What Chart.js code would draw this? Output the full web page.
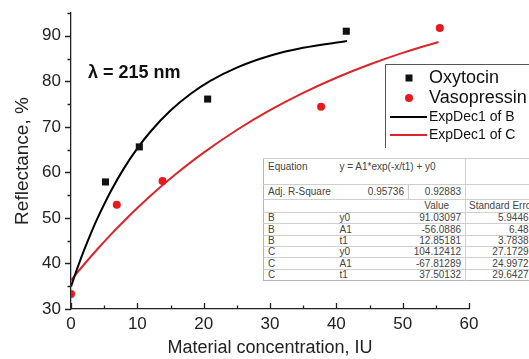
<!DOCTYPE html>
<html>
<head>
<meta charset="utf-8">
<script src="https://cdn.jsdelivr.net/npm/chart.js@4/dist/chart.umd.min.js"></script>
<style>
  html, body { margin:0; padding:0; background:#fff; }
  #wrap { position:relative; width:529px; height:359px; overflow:hidden; background:#fff; }
  #c { position:absolute; left:0; top:0; }
  #fit { position:absolute; left:263px; top:158px; width:272px; border-collapse:collapse; table-layout:fixed;
         font:10px "Liberation Sans", Arial, sans-serif; color:#444; background:#fff;
         border-left:1px solid #b5b5b5; border-bottom:1px solid #b5b5b5; border-top:1px solid #b5b5b5; }
  #fit td { border-top:1px solid #cfcfcf; padding:0 4px; white-space:nowrap; overflow:hidden; line-height:10px; }
  #fit td.r { text-align:right; }
  #fit td.ce { text-align:center; }
  #fit td.vl { border-left:1px solid #cfcfcf; }
  #fit td.top { vertical-align:top; padding-top:3px; }
</style>
</head>
<body>
<div id="wrap">
  <canvas id="c" width="529" height="359"></canvas>
  <table id="fit"></table>
</div>
<script>
// ---- data ----
const oxyConc  = [5.2, 10.3, 20.6, 41.5];
const oxyRefl  = [57.9, 65.6, 76.1, 91.0];
const vasoConc = [0, 6.9, 13.8, 37.7, 55.6];
const vasoRefl = [33.3, 52.9, 58.1, 74.4, 91.7];

// fitted curves (ExpDec1)
const fitBConc = [0, 1, 2, 3, 4, 6, 8, 10, 12, 15, 18, 21, 25, 30, 35, 41.6];
const fitBRefl = [34.94, 39.14, 43.02, 46.62, 49.94, 55.86, 60.93, 65.27, 68.98, 73.57, 77.21, 80.09, 83.01, 85.60, 87.35, 88.83];
const fitCConc = [0, 1, 2, 4, 6, 8, 10, 13, 16, 20, 25, 30, 35, 40, 45, 50, 55.4];
const fitCRefl = [36.31, 38.09, 39.83, 43.17, 46.34, 49.34, 52.18, 56.18, 59.86, 64.34, 69.31, 73.65, 77.46, 80.78, 83.69, 86.24, 88.64];

// axis ticks
const xTicks = [0, 10, 20, 30, 40, 50, 60];
const xMinor = [5, 15, 25, 35, 45, 55];
const yTicks = [30, 40, 50, 60, 70, 80, 90];
const yMinor = [35, 45, 55, 65, 75, 85, 95];

// legend / annotation text
const seriesNames = ['Oxytocin', 'Vasopressin', 'ExpDec1 of B', 'ExpDec1 of C'];
const annotation = 'λ = 215 nm';

// fit result table
const tableEquation = 'y = A1*exp(-x/t1) + y0';
const adjR2 = ['0.95736', '0.92883'];
const tableHeader = ['Value', 'Standard Error'];
const tableSeries = ['B', 'B', 'B', 'C', 'C', 'C'];
const tableParams = ['y0', 'A1', 't1', 'y0', 'A1', 't1'];
const tableValues = ['91.03097', '-56.0886', '12.85181', '104.12412', '-67.81289', '37.50132'];
const tableErrors = ['5.9446', '6.48', '3.7838', '27.1729', '24.9972', '29.6427'];

// ---- build table ----
(function(){
  const t = document.getElementById('fit');
  let h = '<colgroup><col style="width:72px"><col style="width:73px"><col style="width:57px"><col style="width:70px"></colgroup>';
  h += '<tr style="height:26px"><td class="top">Equation</td><td class="top" colspan="2">' + tableEquation + '</td><td class="vl"></td></tr>';
  h += '<tr style="height:15px"><td>Adj. R-Square</td><td class="r">' + adjR2[0] + '</td><td class="r vl">' + adjR2[1] + '</td><td class="vl"></td></tr>';
  h += '<tr style="height:13px"><td></td><td></td><td class="ce">' + tableHeader[0] + '</td><td class="vl" style="padding-left:3px">' + tableHeader[1] + '</td></tr>';
  const hs = [11, 12, 11, 11, 12, 11];
  for (let i = 0; i < tableSeries.length; i++) {
    h += '<tr style="height:' + hs[i] + 'px"><td>' + tableSeries[i] + '</td><td>' + tableParams[i] +
         '</td><td class="r">' + tableValues[i] + '</td><td class="r vl" style="padding-right:7px">' + tableErrors[i] + '</td></tr>';
  }
  t.innerHTML = h;
})();

const FONT = '"Liberation Sans", Arial, sans-serif';

const decor = {
  id: 'decor',
  afterDraw(chart) {
    const ctx = chart.ctx;
    const xs = chart.scales.x, ys = chart.scales.y;
    const ca = chart.chartArea;
    ctx.save();
    ctx.strokeStyle = '#222';
    ctx.lineWidth = 1.3;
    ctx.beginPath();
    for (const v of yTicks) { const p = Math.round(ys.getPixelForValue(v)) + 0.5; ctx.moveTo(ca.left - 6, p); ctx.lineTo(ca.left, p); }
    for (const v of yMinor) { const p = Math.round(ys.getPixelForValue(v)) + 0.5; ctx.moveTo(ca.left - 3.5, p); ctx.lineTo(ca.left, p); }
    for (const v of xTicks) { const p = Math.round(xs.getPixelForValue(v)) + 0.5; ctx.moveTo(p, ca.bottom); ctx.lineTo(p, ca.bottom - 6); }
    for (const v of xMinor) { const p = Math.round(xs.getPixelForValue(v)) + 0.5; ctx.moveTo(p, ca.bottom); ctx.lineTo(p, ca.bottom - 3.5); }
    ctx.stroke();

    // annotation
    ctx.fillStyle = '#111';
    ctx.font = 'bold 18px ' + FONT;
    ctx.textBaseline = 'middle';
    ctx.textAlign = 'left';
    ctx.fillText(annotation, 88, 73);

    // legend box
    ctx.fillStyle = '#fff';
    ctx.fillRect(386, 65, 143, 83);
    ctx.strokeStyle = '#555';
    ctx.lineWidth = 1;
    ctx.beginPath();
    ctx.moveTo(385.5, 148); ctx.lineTo(385.5, 64.5); ctx.lineTo(529, 64.5);
    ctx.stroke();

    const ds = chart.data.datasets;
    ctx.fillStyle = ds[0].backgroundColor;
    ctx.fillRect(405.5, 74.5, 7, 7);
    ctx.fillStyle = ds[1].backgroundColor;
    ctx.beginPath(); ctx.arc(409, 98, 4, 0, Math.PI * 2); ctx.fill();
    ctx.lineWidth = 2;
    ctx.strokeStyle = ds[2].borderColor;
    ctx.beginPath(); ctx.moveTo(390, 117); ctx.lineTo(427, 117); ctx.stroke();
    ctx.strokeStyle = ds[3].borderColor;
    ctx.beginPath(); ctx.moveTo(390, 135); ctx.lineTo(427, 135); ctx.stroke();

    ctx.fillStyle = '#111';
    ctx.font = '18px ' + FONT;
    ctx.fillText(seriesNames[0], 429, 78);
    ctx.fillText(seriesNames[1], 429, 98);
    ctx.font = '14px ' + FONT;
    ctx.fillText(seriesNames[2], 429, 117);
    ctx.fillText(seriesNames[3], 429, 135);
    ctx.restore();
  }
};

const zip = (a, b) => a.map((v, i) => ({ x: v, y: b[i] }));

new Chart(document.getElementById('c'), {
  type: 'scatter',
  data: {
    datasets: [
      { label: seriesNames[0], data: zip(oxyConc, oxyRefl), pointStyle: 'rect', pointRadius: 5,
        backgroundColor: '#111', borderColor: '#111', borderWidth: 0, order: 0 },
      { label: seriesNames[1], data: zip(vasoConc, vasoRefl), pointStyle: 'circle', pointRadius: 4,
        backgroundColor: '#e8191c', borderColor: '#e8191c', borderWidth: 0, order: 0,
        clip: { left: 0, top: false, right: false, bottom: false } },
      { label: seriesNames[2], data: zip(fitBConc, fitBRefl), showLine: true, pointRadius: 0,
        borderColor: '#000', borderWidth: 2, cubicInterpolationMode: 'monotone', order: 1 },
      { label: seriesNames[3], data: zip(fitCConc, fitCRefl), showLine: true, pointRadius: 0,
        borderColor: '#d8262a', borderWidth: 2, cubicInterpolationMode: 'monotone', order: 1 }
    ]
  },
  options: {
    responsive: false,
    animation: false,
    devicePixelRatio: 1,
    layout: { padding: { top: 13, right: 60, bottom: 0, left: 0 } },
    plugins: { legend: { display: false }, tooltip: { enabled: false } },
    scales: {
      x: {
        type: 'linear', min: 0, max: 60,
        afterFit(s) { s.height = 50; s.paddingLeft = 0; s.paddingRight = 0; },
        afterBuildTicks(s) { s.ticks = xTicks.map(v => ({ value: v })); },
        grid: { display: false, drawTicks: false },
        border: { display: true, color: '#222', width: 1.3 },
        ticks: { padding: 5, color: '#222', font: { family: FONT, size: 17 }, maxRotation: 0, autoSkip: false },
        title: { display: true, text: 'Material concentration, IU', color: '#222',
                 font: { family: FONT, size: 18 }, padding: { top: 0, bottom: 0 } }
      },
      y: {
        type: 'linear', min: 30, max: 95,
        afterFit(s) { s.width = 71; s.paddingTop = 0; s.paddingBottom = 0; },
        afterBuildTicks(s) { s.ticks = yTicks.map(v => ({ value: v })); },
        grid: { display: false, drawTicks: false },
        border: { display: true, color: '#222', width: 1.3 },
        ticks: { padding: 10, color: '#222', font: { family: FONT, size: 17 }, autoSkip: false },
        title: { display: true, text: 'Reflectance, %', color: '#222',
                 font: { family: FONT, size: 19 }, padding: { top: 11, bottom: 0 } }
      }
    }
  },
  plugins: [decor]
});
</script>
</body>
</html>
